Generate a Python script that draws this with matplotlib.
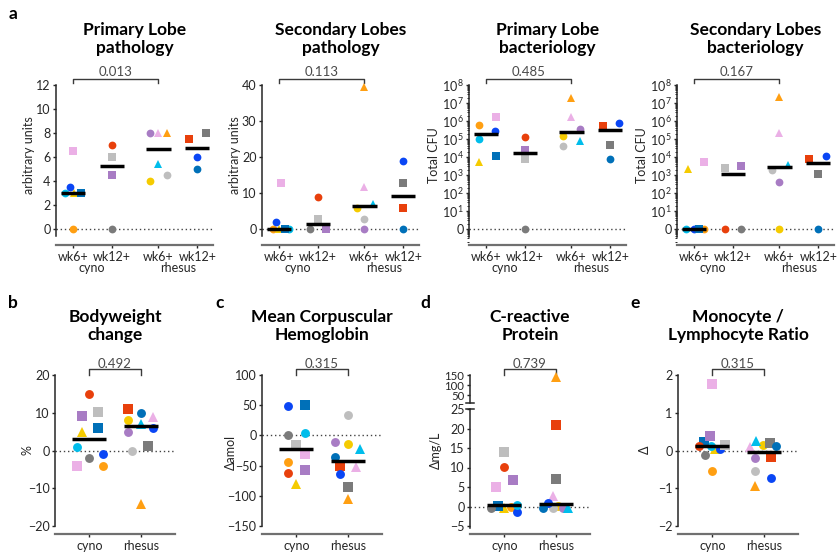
import numpy as np
import matplotlib
matplotlib.use("Agg")
import matplotlib.pyplot as plt
from matplotlib import transforms
from matplotlib.lines import Line2D
from matplotlib.ticker import LogLocator, NullFormatter

plt.rcParams['font.family'] = ['Lato', 'DejaVu Sans']
plt.rcParams['mathtext.fontset'] = 'custom'
plt.rcParams['mathtext.rm'] = 'Lato'
plt.rcParams['mathtext.it'] = 'Lato:italic'
plt.rcParams['mathtext.bf'] = 'Lato:bold'

# ---------------- data ----------------
ANIMALS = ['c_or', 'c_ye', 'c_bb', 'c_cy', 'c_sb', 'c_pk', 'c_rd', 'c_lg', 'c_pu', 'c_dg',
           'r_ye', 'r_lg', 'r_pu', 'r_pk', 'r_cy', 'r_or', 'r_rd', 'r_dg', 'r_bb', 'r_sb']
TOP_GROUP = [0, 0, 0, 0, 0, 0, 1, 1, 1, 1, 2, 2, 2, 2, 2, 2, 3, 3, 3, 3]
SPECIES_GROUP = [0] * 10 + [1] * 10
TOP_TICKLABELS = ['wk6+', 'wk12+', 'wk6+', 'wk12+']
SPECIES = ['cyno', 'rhesus']

primary_path = [0, 3, 3.5, 3, 3, 6.5, 7, 6, 4.5, 0,
                4, 4.5, 8, 8, 5.4, 8, 7.5, 8, 6, 5]
secondary_path = [0, 0, 1.9, 0, 0, 12.7, 8.9, 2.9, 0, 0,
                  5.8, 2.9, 0, 11.8, 6.9, 39.5, 5.8, 12.7, 18.9, 0]
primary_cfu = [6.2e5, 5.4e3, 2.8e5, 9.8e4, 1.2e4, 1.6e6, 1.3e5, 7.6e3, 2.6e4, 0,
               1.4e5, 4.2e4, 3.6e5, 1.6e6, 7.9e4, 1.8e7, 5.6e5, 4.6e4, 7.6e5, 7.6e3]
secondary_cfu = [0, 2.2e3, 0, 0, 0, 5.2e3, 0, 2.4e3, 3.2e3, 0,
                 0, 1.8e3, 390, 2.1e5, 3.7e3, 2.1e7, 7.9e3, 1.2e3, 1.2e4, 0]
bodyweight = [-4, 5, -0.9, 1, 5.9, -4, 15, 10.1, 9.1, -2,
              8.1, 0, 5, 9, 7, -14.2, 11, 1.3, 5.9, 10]
mch = [-43.6, -80.4, 49.3, 3.4, 49.8, -30.2, -61.8, -15.3, -57.8, 0.7,
       -14.4, 33.6, -11.6, -52.9, -22.1, -105.3, -50.1, -86, -63.9, -35.2]
crp = [-0.1, -0.3, -1.5, 0.5, 0.2, 5.1, 10.1, 13.9, 6.7, -0.5,
       0.2, -0.3, -0.5, 2.7, -0.3, 138, 20.8, 7, 1.0, -0.3]
mlr = [-0.55, 0.03, 0.05, 0.13, 0.22, 1.75, 0.13, 0.15, 0.39, -0.11,
       0.15, -0.54, -0.19, 0.1, 0.24, -0.94, -0.16, 0.19, -0.74, 0.13]

p_values = ['0.013', '0.113', '0.485', '0.167', '0.492', '0.315', '0.739', '0.315']

# ---------------- styles / positions ----------------
STYLE = {
    'c_or': ('#FF9F12', 'o'), 'c_ye': ('#F5CB00', '^'), 'c_bb': ('#0A46F5', 'o'),
    'c_cy': ('#00BDEB', 'o'), 'c_sb': ('#0070B8', 's'), 'c_pk': ('#EBB0E6', 's'),
    'c_rd': ('#E8400C', 'o'), 'c_lg': ('#BEBEBE', 's'), 'c_pu': ('#A87CC4', 's'),
    'c_dg': ('#7B7B7B', 'o'),
    'r_ye': ('#F5CB00', 'o'), 'r_lg': ('#BEBEBE', 'o'), 'r_pu': ('#A87CC4', 'o'),
    'r_pk': ('#EBB0E6', '^'), 'r_cy': ('#00BDEB', '^'), 'r_or': ('#FF9F12', '^'),
    'r_rd': ('#E8400C', 's'), 'r_dg': ('#7B7B7B', 's'), 'r_bb': ('#0A46F5', 'o'),
    'r_sb': ('#0070B8', 'o'),
}

off_a1 = [0, 0.03, -0.07, -0.2, 0.21, 0, 0, 0, 0, 0,
          -0.21, 0.21, -0.21, 0, 0, 0.21, -0.21, 0.21, 0, 0]
off_a2 = [-0.16, 0, -0.06, 0.26, 0.17, 0.06, 0, 0.02, 0.21, -0.21,
          -0.19, 0, 0, 0, 0.21, 0, 0, 0, 0, 0]
off_a3 = [-0.17, -0.17, 0.24, -0.17, 0.26, 0.26, 0, 0, 0, 0,
          -0.21, -0.21, 0.21, 0, 0.21, 0, -0.2, 0, 0.22, 0]
off_a4 = [0.27, -0.15, 0, -0.19, 0.13, 0.27, -0.2, -0.2, 0.2, 0.2,
          0, -0.2, 0, 0, 0.21, 0, -0.23, 0, 0.2, 0]
off_b = [0.26, -0.15, 0.26, -0.25, 0.16, -0.25, 0, 0.16, -0.15, 0,
         -0.25, -0.16, -0.25, 0.25, 0, 0, -0.25, 0.15, 0.25, 0]
off_c = [-0.16, 0, -0.16, 0.16, 0.16, 0.16, -0.16, 0, 0.16, -0.16,
         0, 0, -0.25, 0.16, 0.25, 0, -0.15, 0, -0.15, -0.25]
off_d = [0.12, 0, 0.25, 0.25, -0.12, -0.16, 0, 0, 0.16, -0.26,
         0.05, -0.05, 0.15, -0.05, 0.25, 0, 0, 0, -0.15, -0.25]
off_e = [0, 0.05, 0.15, -0.03, -0.16, 0, -0.26, 0.25, -0.05, -0.15,
         -0.02, -0.16, -0.16, -0.27, -0.15, -0.16, 0.14, 0.12, 0.14, 0.24]

TOP_POS = [0, 1, 2.2, 3.2]
BOT_POS = [0, 1]

W, H = 839, 553
fig = plt.figure(figsize=(W / 100, H / 100), dpi=100)

DARK = '#262626'
TICK_FS = 9.0


def fy(y):
    return 1 - y / H


def add_ax(left, top, width, bottom):
    return fig.add_axes([left / W, 1 - bottom / H, width / W, (bottom - top) / H])


def base_style(ax, xlim, ylim, ybounds, show_bottom=True):
    ax.set_xlim(*xlim)
    ax.set_ylim(*ylim)
    ax.patch.set_alpha(0)
    ax.spines['top'].set_visible(False)
    ax.spines['right'].set_visible(False)
    ax.spines['left'].set_bounds(*ybounds)
    ax.spines['left'].set_color(DARK)
    ax.spines['left'].set_linewidth(1.1)
    if show_bottom:
        ax.spines['bottom'].set_color('#707070')
        ax.spines['bottom'].set_linewidth(1.6)
    else:
        ax.spines['bottom'].set_visible(False)
    ax.tick_params(axis='y', labelsize=TICK_FS, length=2.5, width=1.0, pad=1.5,
                   colors=DARK)
    ax.tick_params(axis='x', labelsize=TICK_FS, length=2.5, width=1.0, pad=1.5,
                   colors=DARK)


def zero_line(ax, y0):
    xl = ax.get_xlim()
    ax.plot(xl, [y0, y0], ls=(0, (1, 2)), color='#444444', lw=1.0, zorder=1)


def draw_points(ax, centers, groups, values, offsets, sizes, log=False, keep=None):
    for a, g, v, o in zip(ANIMALS, groups, values, offsets):
        if keep is not None and not keep(v):
            continue
        col, mk = STYLE[a]
        y = v
        if log and v <= 0:
            y = 1
        ax.plot(centers[g] + o, y, ls='none', marker=mk, color=col, ms=sizes[mk],
                mew=0, clip_on=False, zorder=3)


def draw_medians(ax, centers, groups, values, half, log=False):
    for gi, c in enumerate(centers):
        vals = [v for g, v in zip(groups, values) if g == gi]
        m = float(np.median(vals))
        if log and m <= 0:
            m = 1
        ax.plot([c - half, c + half], [m, m], color='black', lw=2.5,
                solid_capstyle='butt', zorder=4, clip_on=False)


def bracket(ax, x0, x1, y_px, yend_px, text, text_px):
    tr = transforms.blended_transform_factory(ax.transData, fig.transFigure)
    ax.add_line(Line2D([x0, x0, x1, x1], [fy(yend_px), fy(y_px), fy(y_px), fy(yend_px)],
                       transform=tr, color='#3a3a3a', lw=1.0, clip_on=False))
    ax.text((x0 + x1) / 2, fy(text_px), text, transform=tr, ha='center', va='center',
            fontsize=9.5, color='#4a4a4a')


def title(ax, text, y_px):
    bb = ax.get_position()
    fig.text((bb.x0 + bb.x1) / 2, fy(y_px), text, ha='center', va='center',
             fontsize=12.5, fontweight='bold', linespacing=1.15, color='black')


def ylabel(x_px, y_px, text):
    fig.text(x_px / W, fy(y_px), text, rotation=90, ha='center', va='center',
             fontsize=TICK_FS, color=DARK)


TOP_SIZES = {'o': 5.6, 's': 6.2, '^': 6.4}
BOT_SIZES = {'o': 6.4, 's': 7.0, '^': 7.2}

# ---------------- top row ----------------
top_lefts = [56, 262, 469, 677]
top_titles = ['Primary Lobe\npathology', 'Secondary Lobes\npathology',
              'Primary Lobe\nbacteriology', 'Secondary Lobes\nbacteriology']
top_data = [primary_path, secondary_path, primary_cfu, secondary_cfu]
top_offs = [off_a1, off_a2, off_a3, off_a4]
top_ylabels = ['arbitrary units', 'arbitrary units', 'Total CFU', 'Total CFU']
top_ylabel_x = [29, 235, 434, 642]
TXLIM = (-0.43, 3.6)

for i in range(4):
    ax = add_ax(top_lefts[i], 85, 157, 245)
    log = i >= 2
    if i == 0:
        base_style(ax, TXLIM, (-16 / 12, 12), (-0.6, 12))
        ax.set_yticks([0, 2, 4, 6, 8, 10, 12])
        zero_line(ax, 0)
    elif i == 1:
        base_style(ax, TXLIM, (-16 / 3.6, 40), (-2.0, 40))
        ax.set_yticks([0, 10, 20, 30, 40])
        zero_line(ax, 0)
    else:
        ax.set_yscale('log')
        base_style(ax, TXLIM, (10 ** (-16 / 18), 1e8), (10 ** (-8 / 18), 1e8))
        majors = [10.0 ** k for k in range(0, 9)]
        ax.set_yticks(majors)
        ax.set_yticklabels(['0'] + [r'$10^{\,%d}$' % k for k in range(1, 9)])
        ax.yaxis.set_minor_locator(LogLocator(base=10, subs=np.arange(2, 10), numticks=50))
        ax.yaxis.set_minor_formatter(NullFormatter())
        ax.tick_params(axis='y', which='minor', length=1.8, width=0.7, colors=DARK)
        ax.tick_params(axis='y', which='major', pad=1.0)
        zero_line(ax, 1)
    ax.set_xticks(TOP_POS)
    ax.set_xticklabels(TOP_TICKLABELS)
    tr = transforms.blended_transform_factory(ax.transData, fig.transFigure)
    ax.text((TOP_POS[0] + TOP_POS[1]) / 2, fy(268), SPECIES[0], transform=tr,
            ha='center', va='center', fontsize=TICK_FS, color=DARK)
    ax.text((TOP_POS[2] + TOP_POS[3]) / 2, fy(268), SPECIES[1], transform=tr,
            ha='center', va='center', fontsize=TICK_FS, color=DARK)
    draw_points(ax, TOP_POS, TOP_GROUP, top_data[i], top_offs[i], TOP_SIZES, log=log)
    draw_medians(ax, TOP_POS, TOP_GROUP, top_data[i], 0.31, log=log)
    bracket(ax, TOP_POS[0], TOP_POS[2], 78.5, 83, p_values[i], 72.5)
    title(ax, top_titles[i], 39)
    ylabel(top_ylabel_x[i], 155, top_ylabels[i])

# ---------------- bottom row ----------------
BXLIM = (-0.67, 1.67)
bot_titles = ['Bodyweight\nchange', 'Mean Corpuscular\nHemoglobin', 'C-reactive\nProtein',
              'Monocyte /\nLymphocyte Ratio']

# b
axb = add_ax(55, 375, 120, 534)
base_style(axb, BXLIM, (-20 - 8 / 3.775, 20), (-20, 20))
axb.set_yticks([-20, -10, 0, 10, 20])
zero_line(axb, 0)
# c
axc = add_ax(262, 375, 120, 534)
base_style(axc, BXLIM, (-150 - 8 / 0.604, 100), (-150, 100))
axc.set_yticks([-150, -100, -50, 0, 50, 100])
zero_line(axc, 0)
# d (broken axis)
axd = add_ax(470, 409, 120, 534)
base_style(axd, BXLIM, (-5 - 8 / 3.9, 25), (-5.5, 25))
axd.set_yticks([-5, 0, 5, 10, 15, 20, 25])
zero_line(axd, 0)
axd_top = add_ax(470, 375, 120, 403)
base_style(axd_top, BXLIM, (10, 150), (10, 150), show_bottom=False)
axd_top.set_yticks([50, 100, 150])
axd_top.tick_params(axis='y', labelsize=8.2, pad=1.5)
axd_top.set_xticks([])
# e
axe = add_ax(678, 375, 120, 534)
base_style(axe, BXLIM, (-2 - 8 / 37.75, 2), (-2, 2))
axe.set_yticks([-2, -1, 0, 1, 2])
zero_line(axe, 0)

for ax in (axb, axc, axd, axe):
    ax.set_xticks(BOT_POS)
    ax.set_xticklabels(SPECIES)

draw_points(axb, BOT_POS, SPECIES_GROUP, bodyweight, off_b, BOT_SIZES)
draw_medians(axb, BOT_POS, SPECIES_GROUP, bodyweight, 0.33)
draw_points(axc, BOT_POS, SPECIES_GROUP, mch, off_c, BOT_SIZES)
draw_medians(axc, BOT_POS, SPECIES_GROUP, mch, 0.33)
draw_points(axd, BOT_POS, SPECIES_GROUP, crp, off_d, BOT_SIZES, keep=lambda v: v <= 25)
draw_points(axd_top, BOT_POS, SPECIES_GROUP, crp, off_d, BOT_SIZES, keep=lambda v: v > 25)
draw_medians(axd, BOT_POS, SPECIES_GROUP, crp, 0.33)
draw_points(axe, BOT_POS, SPECIES_GROUP, mlr, off_e, BOT_SIZES)
draw_medians(axe, BOT_POS, SPECIES_GROUP, mlr, 0.33)

# break marks on d
for yb in (403, 409):
    fig.add_artist(Line2D([466 / W, 474 / W], [fy(yb), fy(yb)], color=DARK, lw=1.1))

for k, ax in enumerate((axb, axc, axd, axe)):
    bracket(ax, BOT_POS[0], BOT_POS[1], 369, 375, p_values[4 + k], 364)
    title(ax, bot_titles[k], 326)

ylabel(27, 450, '%')
ylabel(231, 452, 'Δamol')
ylabel(436, 450, 'Δmg/L')
ylabel(645, 450, 'Δ')

# panel letters
for letter, (x, y) in zip('abcde', [(13, 14), (13, 303), (220, 303), (425, 303), (635, 303)]):
    fig.text(x / W, fy(y), letter, ha='center', va='center', fontsize=12.5,
             fontweight='bold', color='black')

fig.savefig('out.png', dpi=100)
